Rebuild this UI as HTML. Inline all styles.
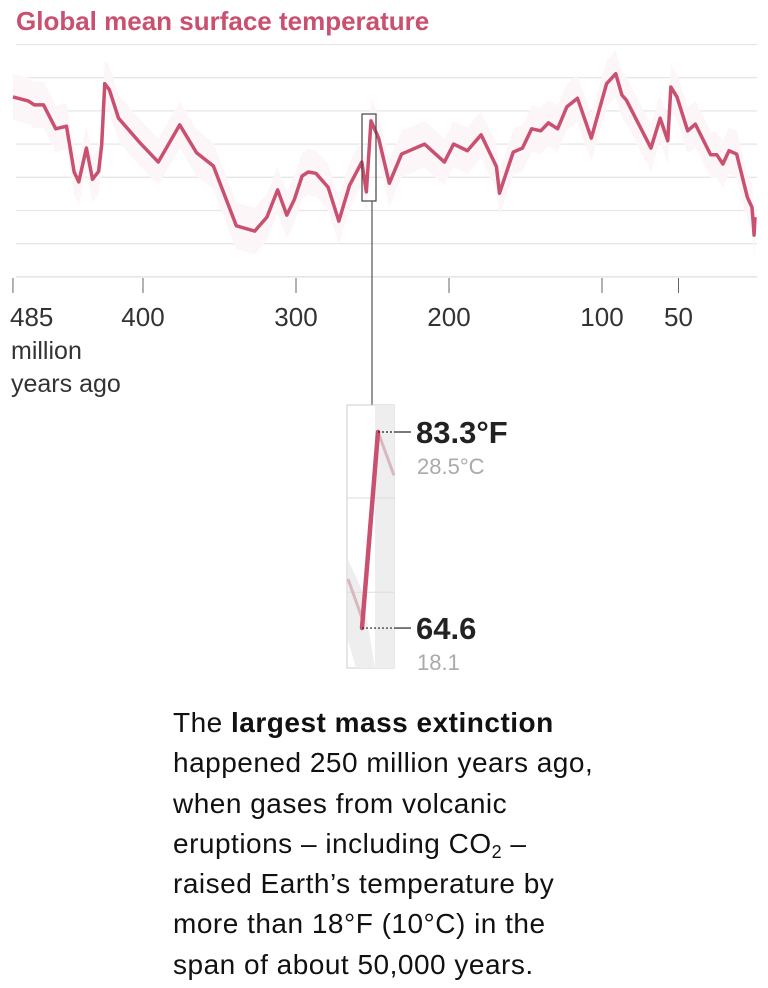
<!DOCTYPE html>
<html><head><meta charset="utf-8"><style>
body{margin:0;background:#fff;width:768px;height:988px;overflow:hidden;font-family:"Liberation Sans",sans-serif;position:relative}
svg{position:absolute;left:0;top:0}
.p{position:absolute;left:173px;top:703px;font-size:28px;line-height:40.3px;color:#111;letter-spacing:0.5px}
.p div{white-space:nowrap;height:40.3px}
.p sub{font-size:18px;line-height:0;vertical-align:-5px}
</style></head><body>
<svg id="chart" width="768" height="700">
<text x="16" y="30" font-size="26" font-weight="bold" fill="#c9506f">Global mean surface temperature</text>
<g id="grid"></g><g id="band"></g><g id="line"></g><g id="axis"></g><g id="inset"></g>
</svg>
<div class="p">
<div>The <b>largest mass extinction</b></div>
<div>happened 250 million years ago,</div>
<div>when gases from volcanic</div>
<div>eruptions – including CO<sub>2</sub> –</div>
<div>raised Earth’s temperature by</div>
<div>more than 18°F (10°C) in the</div>
<div>span of about 50,000 years.</div>
</div>
<script>
const ages=[485,475,471,465,457,450,445,442,437,433,429,427,425,422,416,402,390,376,365,354,339,327,319,312,306,301,296,292,287,279,272,265,257,254,251,246,239,231,216,203,197,188,179,169,167,158,152,146,140,135,129,123,116,107,97,91,87,84,68,62,57,55,51,44,39,29,25,21,17,12,5,2,1.2,0.6,0];
const temps=[32.1,31.5,30.9,30.9,27.3,27.7,20.8,19.3,24.4,19.7,20.9,24.9,34.1,33.2,28.9,25.2,22.3,27.9,23.7,21.7,12.7,11.9,14.0,18.1,14.3,16.7,20.2,20.8,20.6,18.5,13.4,18.8,22.3,17.8,28.5,25.9,19.1,23.5,25.0,22.3,25.0,24.0,26.4,21.6,17.6,23.8,24.4,27.3,27.0,28.2,27.3,30.6,31.9,25.9,34.1,35.6,32.4,31.6,24.4,28.9,25.5,33.6,32.1,27.0,28.0,23.4,23.4,22.0,24.0,23.5,17.0,15.5,13.3,11.3,14.0];
const gridTemps=[40,35,30,25,20,15,10,5];
const tickAges=[485,400,300,200,100,50];
const tickLabels=["485","400","300","200","100","50"];
const insetTemps=[28.5,18.1];
const insetF=["83.3°F","64.6"];
const insetC=["28.5°C","18.1"];
const NS="http://www.w3.org/2000/svg";
const X=a=>755-a*1.53;
const Y=c=>44.5+(40-c)*6.64;
function mk(tag,attrs,parent){const e=document.createElementNS(NS,tag);for(const k in attrs)e.setAttribute(k,attrs[k]);document.getElementById(parent).appendChild(e);return e;}
gridTemps.forEach(c=>{const l=mk('line',{x1:16,x2:757,y1:Y(c),y2:Y(c),stroke:c===5?'#ddd':'#e6e6e6','stroke-width':1.3},'grid');

});
let up=ages.map((a,i)=>X(a)+','+Y(temps[i]+3.5)).join(' ');
let dn=ages.map((a,i)=>X(a)+','+Y(temps[i]-3.5)).reverse().join(' ');
const band=mk('polygon',{points:up+' '+dn,fill:'#fdf6f8'},'band');


const pl=mk('polyline',{points:ages.map((a,i)=>X(a)+','+Y(temps[i])).join(' '),fill:'none',stroke:'#c9506f','stroke-width':3.5,'stroke-linejoin':'round'},'line');


tickAges.forEach((a,i)=>{const t=mk('line',{x1:X(a),x2:X(a),y1:278,y2:293,stroke:'#666','stroke-width':1},'axis');


const tx=mk('text',{x:i===0?10:X(a),y:326,'font-size':26,fill:'#333','text-anchor':i===0?'start':'middle'},'axis');tx.textContent=tickLabels[i];

});
[["million",359],["years ago",392]].forEach(([s,y])=>{const t=mk('text',{x:11,y:y,'font-size':25,fill:'#333'},'axis');t.textContent=s;

});
const hb=mk('rect',{x:362,y:114,width:14,height:87,fill:'none',stroke:'#444','stroke-width':1.2},'inset');


mk('line',{x1:372,x2:372,y1:201,y2:405,stroke:'#555','stroke-width':1.2},'inset');
const IY=c=>432+(28.5-c)*18.85;
mk('rect',{x:347,y:405,width:47,height:263,fill:'#fff',stroke:'#ccc','stroke-width':1},'inset');
mk('polygon',{points:'375,405 394,405 394,668 375,668',fill:'#eee'},'inset');
mk('polygon',{points:'348,560 362,590 375,668 356,668 348,640',fill:'#eee'},'inset');
[25,20].forEach(c=>mk('line',{x1:347,x2:394,y1:IY(c),y2:IY(c),stroke:'#ddd','stroke-width':1},'inset'));
mk('line',{x1:378,y1:IY(28.5),x2:394,y2:IY(26.2),stroke:'#d9b7c0','stroke-width':3},'inset');
mk('line',{x1:348,y1:579,x2:362,y2:IY(18.1)-10,stroke:'#d9b7c0','stroke-width':3},'inset');
const il=mk('line',{x1:378,y1:IY(insetTemps[0]),x2:362,y2:IY(insetTemps[1]),stroke:'#c9506f','stroke-width':4.5,'stroke-linecap':'round'},'inset');


insetTemps.forEach((c,i)=>{const px=i?362:378,y=IY(c);
mk('line',{x1:px,x2:395,y1:y,y2:y,stroke:'#222','stroke-width':1.2,'stroke-dasharray':'2,2'},'inset');
mk('line',{x1:395,x2:411,y1:y,y2:y,stroke:'#222','stroke-width':1.2},'inset');
const t=mk('text',{x:416,y:y+11,'font-size':31,'font-weight':'bold',fill:'#222'},'inset');t.textContent=insetF[i];


const t2=mk('text',{x:417,y:y+42,'font-size':22,fill:'#aaa'},'inset');t2.textContent=insetC[i];

});
</script>
</body></html>
